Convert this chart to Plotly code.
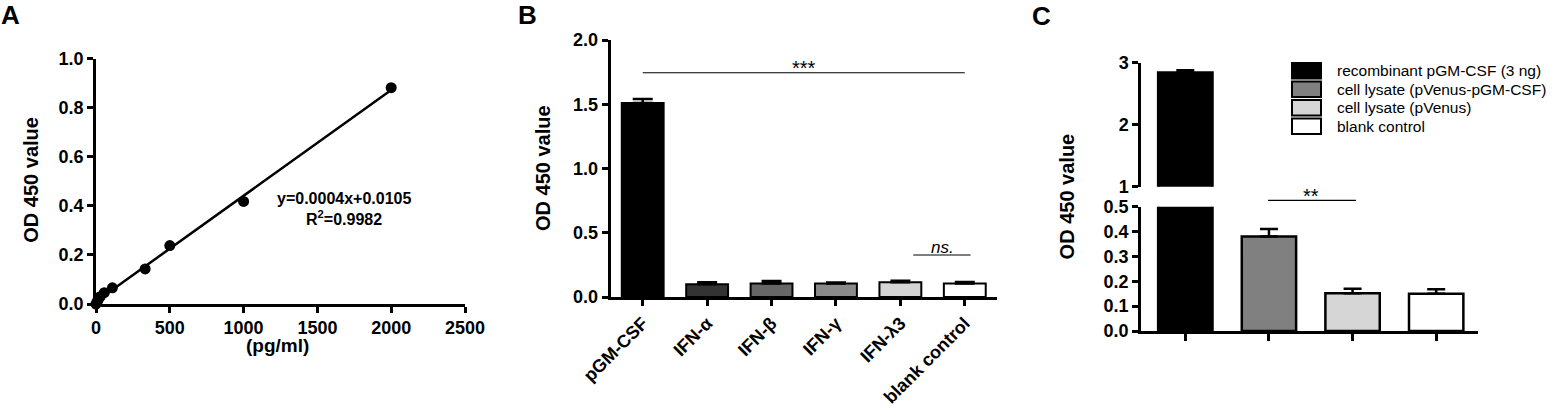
import numpy as np
import plotly.graph_objects as go

# ---------------- data ----------------
# Panel A: standard curve
std_conc = [0, 7, 14, 28, 56, 111, 333, 500, 1000, 2000]
std_od = [0.0, 0.008, 0.016, 0.03, 0.046, 0.066, 0.143, 0.238, 0.418, 0.882]
eq_text = "y=0.0004x+0.0105"
r2_text = "R<sup>2</sup>=0.9982"
a_xticks = [0, 500, 1000, 1500, 2000, 2500]
a_yticks = [0.0, 0.2, 0.4, 0.6, 0.8, 1.0]

# Panel B: specificity
b_cats = ["pGM-CSF", "IFN-α", "IFN-β", "IFN-γ", "IFN-λ3", "blank control"]
b_vals = [1.51, 0.100, 0.105, 0.105, 0.115, 0.105]
b_err = [0.03, 0.015, 0.020, 0.008, 0.012, 0.012]
b_colors = ["#000000", "#333333", "#666666", "#8a8a8a", "#d4d4d4", "#ffffff"]
b_yticks = [0.0, 0.5, 1.0, 1.5, 2.0]

# Panel C: cell lysate detection
c_cats = ["recombinant pGM-CSF (3 ng)", "cell lysate (pVenus-pGM-CSF)",
          "cell lysate (pVenus)", "blank control"]
c_vals = [2.84, 0.38, 0.152, 0.150]
c_err = [0.04, 0.03, 0.018, 0.018]
c_colors = ["#000000", "#808080", "#d6d6d6", "#ffffff"]
c_low_ticks = [0.0, 0.1, 0.2, 0.3, 0.4, 0.5]
c_high_ticks = [1, 2, 3]

# ---------------- helpers ----------------
W, H = 1556, 408
FONT = "Liberation Sans, Arial, sans-serif"


def px(x):
    return x / W


def py(y):
    return 1 - y / H


axis_common = dict(showline=True, linecolor="black", linewidth=2.5, ticks="outside",
                   ticklen=6, tickwidth=2.5, tickcolor="black", showgrid=False,
                   zeroline=False, mirror=False, automargin=False,
                   tickfont=dict(family=FONT, size=18, color="black", weight="bold"))

fig = go.Figure()

# ---- Panel A ----
slope, intercept = np.polyfit(std_conc, std_od, 1)
fit_x = np.array([min(std_conc), max(std_conc)])
fig.add_trace(go.Scatter(x=fit_x, y=slope * fit_x + intercept, mode="lines",
                         line=dict(color="black", width=2.5), xaxis="x", yaxis="y",
                         showlegend=False, cliponaxis=False))
fig.add_trace(go.Scatter(x=std_conc, y=std_od, mode="markers",
                         marker=dict(color="black", size=11), xaxis="x", yaxis="y",
                         showlegend=False, cliponaxis=False))

# ---- Panel B ----
fig.add_trace(go.Bar(x=b_cats, y=b_vals, xaxis="x2", yaxis="y2",
                     marker=dict(color=b_colors, line=dict(color="black", width=2)),
                     error_y=dict(type="data", array=b_err, arrayminus=[0] * len(b_err),
                                  symmetric=False, color="black", thickness=2.5, width=10),
                     showlegend=False))

# ---- Panel C (broken axis: lower and upper parts) ----
c_x = list(range(len(c_cats)))
for xa, ya in (("x3", "y3"), ("x4", "y4")):
    fig.add_trace(go.Bar(x=c_x, y=c_vals, xaxis=xa, yaxis=ya, name="C",
                         marker=dict(color=c_colors, line=dict(color="black", width=2.5)),
                         error_y=dict(type="data", array=c_err, arrayminus=[0] * len(c_err),
                                      symmetric=False, color="black", thickness=2.5, width=9),
                         showlegend=False, hovertext=c_cats))

layout = dict(
    width=W, height=H, margin=dict(l=0, r=0, t=0, b=0, autoexpand=False),
    paper_bgcolor="white", plot_bgcolor="white", bargap=0.35, showlegend=False,
    font=dict(family=FONT, color="black"),
    xaxis=dict(axis_common, domain=[px(96), px(465)], anchor="y", range=[0, 2500],
               tickvals=a_xticks),
    yaxis=dict(axis_common, domain=[py(304), py(58.7)], anchor="x", range=[0, 1],
               tickvals=a_yticks, tickformat=".1f"),
    xaxis2=dict(axis_common, domain=[px(610.5), px(997)], anchor="y2", type="category",
                range=[-0.5, 5.5], tickangle=-45,
                tickfont=dict(family=FONT, size=18, color="black", weight="bold")),
    yaxis2=dict(axis_common, domain=[py(297), py(40)], anchor="x2", range=[0, 2],
                tickvals=b_yticks, tickformat=".1f"),
    xaxis3=dict(axis_common, domain=[px(1141), px(1478)], anchor="y3",
                range=[-0.53, 3.5], tickvals=c_x, showticklabels=False, ticklen=7),
    yaxis3=dict(axis_common, domain=[py(331), py(206.7)], anchor="x3", range=[0, 0.5],
                tickvals=c_low_ticks, tickformat=".1f"),
    xaxis4=dict(domain=[px(1141), px(1478)], anchor="y4", range=[-0.53, 3.5],
                matches="x3", visible=False, showgrid=False, zeroline=False,
                automargin=False),
    yaxis4=dict(axis_common, domain=[py(186.7), py(62.7)], anchor="x4", range=[1, 3],
                tickvals=c_high_ticks),
)
fig.update_layout(**layout)

ann = []
shapes = []

# panel letters
for letter, (lx, ly) in zip(["A", "B", "C"], [(10, 15), (527, 15), (1041, 16)]):
    ann.append(dict(text=f"<b>{letter}</b>", x=px(lx), y=py(ly), xref="paper", yref="paper",
                    xanchor="center", yanchor="middle", showarrow=False,
                    font=dict(size=26, family=FONT, color="black")))

# y axis titles
for (tx, ty) in [(30.7, 180), (543, 168), (1066.7, 196.7)]:
    ann.append(dict(text="<b>OD 450 value</b>", x=px(tx), y=py(ty), xref="paper", yref="paper",
                    xanchor="center", yanchor="middle", textangle=-90, showarrow=False,
                    font=dict(size=20, family=FONT, color="black")))

# x title A
ann.append(dict(text="<b>(pg/ml)</b>", x=px(277.5), y=py(345), xref="paper", yref="paper",
                xanchor="center", yanchor="middle", showarrow=False,
                font=dict(size=19, family=FONT, color="black")))

# equation
ann.append(dict(text=f"<b>{eq_text}</b>", x=1677, y=0.432, xref="x", yref="y",
                showarrow=False, font=dict(size=16, family=FONT, color="black")))
ann.append(dict(text=f"<b>{r2_text}</b>", x=1677, y=0.351, xref="x", yref="y",
                showarrow=False, font=dict(size=16, family=FONT, color="black")))

# significance B
shapes.append(dict(type="line", xref="x2", yref="y2", x0=0, x1=5, y0=1.745, y1=1.745,
                   line=dict(color="black", width=1.2)))
ann.append(dict(text="***", x=2.5, y=1.783, xref="x2", yref="y2", yanchor="middle",
                showarrow=False, font=dict(size=20, family=FONT, color="black")))
shapes.append(dict(type="line", xref="x2", yref="y2", x0=4.2, x1=5.09, y0=0.327, y1=0.327,
                   line=dict(color="black", width=1.2)))
ann.append(dict(text="<i>ns.</i>", x=4.65, y=0.389, xref="x2", yref="y2", yanchor="middle",
                showarrow=False, font=dict(size=17, family=FONT, color="black")))

# significance C
shapes.append(dict(type="line", xref="x3", yref="paper", x0=0.99, x1=2.04,
                   y0=py(200.3), y1=py(200.3), line=dict(color="black", width=1.2)))
ann.append(dict(text="**", x=1.5, y=py(195.7), xref="x3", yref="paper", yanchor="middle",
                showarrow=False, font=dict(size=20, family=FONT, color="black")))

# legend C (boxes + labels)
row_top = 63.0
row_step = 18.5
box_h = 15.5
for i, (name, col) in enumerate(zip(c_cats, c_colors)):
    top = row_top + i * row_step
    shapes.append(dict(type="rect", xref="paper", yref="paper",
                       x0=px(1292), x1=px(1321), y0=py(top), y1=py(top + box_h),
                       fillcolor=col, line=dict(color="black", width=2)))
    ann.append(dict(text=name, x=px(1335), y=py(top + box_h / 2), xref="paper",
                    yref="paper", xanchor="left", yanchor="middle", showarrow=False,
                    font=dict(size=15.5, family=FONT, color="black")))

fig.update_layout(annotations=ann, shapes=shapes)
fig.write_html("out.html", config={"displayModeBar": False},
               post_script="document.body.style.margin='0px';document.body.style.overflow='hidden';")
